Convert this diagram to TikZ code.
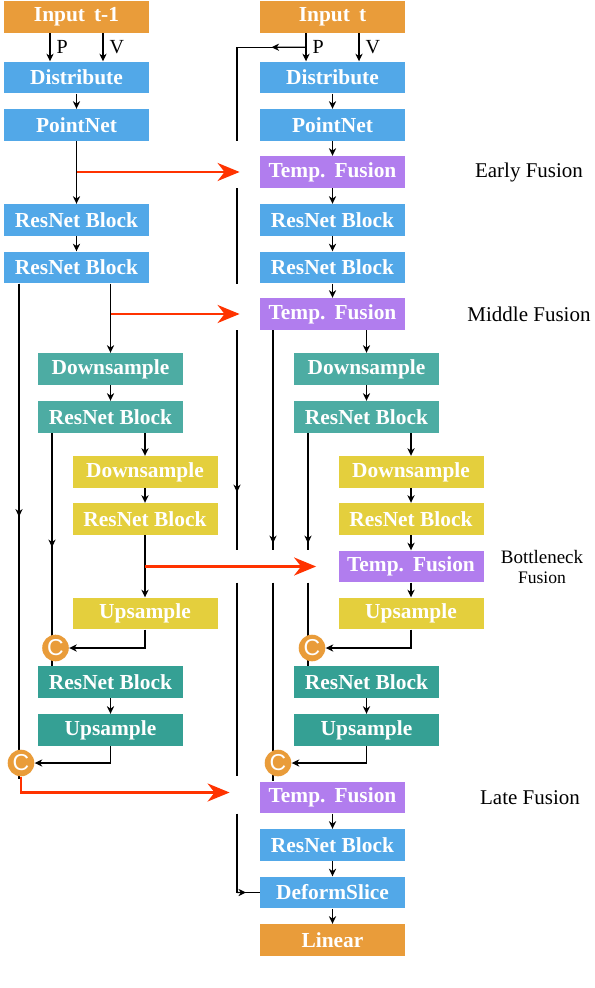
\documentclass[tikz,border=0pt]{standalone}
\usepackage{fontspec}
\setmainfont{Liberation Serif}
\setsansfont{Liberation Sans}
\usepackage{tikz}
\usetikzlibrary{calc,arrows.meta,backgrounds}
\definecolor{inorange}{RGB}{233,156,58}
\definecolor{netblue}{RGB}{82,168,232}
\definecolor{fusepurple}{RGB}{177,125,238}
\definecolor{downteal}{RGB}{77,172,163}
\definecolor{upteal}{RGB}{53,160,148}
\definecolor{botyellow}{RGB}{228,207,61}
\definecolor{fusered}{RGB}{255,51,0}
\newcommand{\bw}{72.5pt}
\newcommand{\bh}{15.8pt}
\newcommand{\pv}{13.25pt}
\newcommand{\gap}{\hspace{0.42em}}
\tikzset{
  block/.style    = {rectangle, minimum width=\bw, minimum height=\bh, inner sep=0pt,
                     text=white, font=\fontsize{10.7}{12}\selectfont\bfseries},
  inbox/.style    = {block, fill=inorange},
  netbox/.style   = {block, fill=netblue},
  fusebox/.style  = {block, fill=fusepurple},
  downbox/.style  = {block, fill=downteal},
  upbox/.style    = {block, fill=upteal},
  ybox/.style     = {block, fill=botyellow},
  catnode/.style  = {circle, fill=inorange, minimum size=13.3pt, inner sep=0pt,
                     text=white, font=\sffamily\fontsize{11.5}{11}\selectfont},
  tip/.style      = {-{Stealth[length=3.8pt,width=3.6pt,inset=1.2pt]}, line width=0.6pt},
  wire/.style     = {line width=0.6pt},
  hot/.style      = {-{Stealth[length=11pt,width=9pt,inset=3.5pt]}, line width=1.35pt, draw=fusered},
  pvlabel/.style  = {font=\fontsize{10}{12}\selectfont, inner sep=3pt},
  stage/.style    = {font=\fontsize{10.5}{12}\selectfont, inner sep=0pt}
}

\begin{document}
\begin{tikzpicture}[x=0.5pt,y=-0.5pt]
  \useasboundingbox (0,0) rectangle (594,988);
  % frame t-1 (left column)
  \node[inbox]   (inA)    at (76.5,17)    {Input\gap t-1};
  \node[netbox]  (distA)  at (76.5,77.5)  {Distribute};
  \node[netbox]  (pnA)    at (76.5,125)   {PointNet};
  \node[netbox]  (resA1)  at (76.5,220)   {ResNet Block};
  \node[netbox]  (resA2)  at (76.5,267.5) {ResNet Block};
  \node[downbox] (downA1) at (110.5,369)  {Downsample};
  \node[downbox] (resA3)  at (110.5,417)  {ResNet Block};
  \node[ybox]    (downA2) at (145,472)    {Downsample};
  \node[ybox]    (resA4)  at (145,519)    {ResNet Block};
  \node[ybox]    (upA1)   at (145,613.5)  {Upsample};
  \node[upbox]   (resA5)  at (110.5,682)  {ResNet Block};
  \node[upbox]   (upA2)   at (110.5,730)  {Upsample};
  \node[catnode] (catA1)  at (55.5,648)   {C};
  \node[catnode] (catA2)  at (21,763)     {C};
  % frame t (right column)
  \node[inbox]   (inB)    at (332.5,17)    {Input\gap t};
  \node[netbox]  (distB)  at (332.5,77.5)  {Distribute};
  \node[netbox]  (pnB)    at (332.5,125)   {PointNet};
  \node[fusebox] (fuseB1) at (332.5,172)   {Temp.\gap Fusion};
  \node[netbox]  (resB1)  at (332.5,220)   {ResNet Block};
  \node[netbox]  (resB2)  at (332.5,267.5) {ResNet Block};
  \node[fusebox] (fuseB2) at (332.5,314)   {Temp.\gap Fusion};
  \node[downbox] (downB1) at (366.5,369)   {Downsample};
  \node[downbox] (resB3)  at (366.5,417)   {ResNet Block};
  \node[ybox]    (downB2) at (411,472)     {Downsample};
  \node[ybox]    (resB4)  at (411,519)     {ResNet Block};
  \node[fusebox] (fuseB3) at (411,566.5)   {Temp.\gap Fusion};
  \node[ybox]    (upB1)   at (411,613.5)   {Upsample};
  \node[upbox]   (resB5)  at (366.5,682)   {ResNet Block};
  \node[upbox]   (upB2)   at (366.5,730)   {Upsample};
  \node[catnode] (catB1)  at (312,648)     {C};
  \node[catnode] (catB2)  at (278,763)     {C};
  \node[fusebox] (fuseB4) at (332.5,797.5) {Temp.\gap Fusion};
  \node[netbox]  (resB6)  at (332.5,845)   {ResNet Block};
  \node[netbox]  (slice)  at (332.5,892.5) {DeformSlice};
  \node[inbox]   (lin)    at (332.5,940)   {Linear};
  % stage names
  \node[stage] (earlyLbl)  at (529,172) {Early Fusion};
  \node[stage] (middleLbl) at (529,314) {Middle Fusion};
  \node[stage, font=\fontsize{9.5}{11}\selectfont] (bottleLbl)  at (542,557) {Bottleneck};
  \node[stage, font=\fontsize{8.8}{10}\selectfont] (bottleLbl2) at (542,578) {Fusion};
  \node[stage] (lateLbl)   at (530,798) {Late Fusion};

  \begin{scope}[on background layer]
    % P and V inputs
    \draw[tip] ([xshift=-\pv]inA.south) -- node[pvlabel,right] (pA) {P} ([xshift=-\pv]distA.north);
    \draw[tip] ([xshift=\pv]inA.south)  -- node[pvlabel,right] (vA) {V} ([xshift=\pv]distA.north);
    \draw[tip] ([xshift=-\pv]inB.south) -- node[pvlabel,right] (pB) {P} ([xshift=-\pv]distB.north);
    \draw[tip] ([xshift=\pv]inB.south)  -- node[pvlabel,right] (vB) {V} ([xshift=\pv]distB.north);
    % straight links inside a column
    \foreach \a/\b in {distA/pnA, pnA/resA1, resA1/resA2, downA1/resA3, downA2/resA4,
                       resA4/upA1, resA5/upA2, distB/pnB, pnB/fuseB1, fuseB1/resB1,
                       resB1/resB2, resB2/fuseB2, downB1/resB3, downB2/resB4,
                       resB4/fuseB3, fuseB3/upB1, resB5/upB2, fuseB4/resB6,
                       resB6/slice, slice/lin}
      \draw[tip] (\a.south) -- (\b.north);
    \draw[tip] (resA2.south -| downA1.north) -- (downA1.north);
    \draw[tip] (resA3.south -| downA2.north) -- (downA2.north);
    \draw[tip] (fuseB2.south -| downB1.north) -- (downB1.north);
    \draw[tip] (resB3.south -| downB2.north) -- (downB2.north);
    % concatenations
    \draw[tip] (upA1.south) |- (catA1.east);
    \draw[tip] (upA2.south) |- (catA2.east);
    \draw[tip] (upB1.south) |- (catB1.east);
    \draw[tip] (upB2.south) |- (catB2.east);
    % skip connections, left
    \coordinate (skipA)  at ($(resA2.south)+(-57.5,0)$);
    \coordinate (skipA2) at ($(resA3.south)+(-58.5,0)$);
    \draw[tip]  (skipA) -- ++(0,233);
    \draw[wire] (skipA) -- ($(skipA |- catA2)+(0,16)$);
    \draw[tip]  (skipA2) -- ++(0,114);
    \draw[wire] (skipA2) -- (skipA2 |- resA5.north);
    % skip connections, right
    \coordinate (skipB2) at ($(fuseB2.south)+(-59.5,0)$);
    \coordinate (skipB3) at ($(resB3.south)+(-58.5,0)$);
    \draw[tip]  (skipB2) -- ++(0,213);
    \draw[wire] (skipB2) -- (skipB2 |- fuseB3.north);
    \draw[wire] (skipB2 |- fuseB3.south) -- (skipB2 |- fuseB4.north);
    \draw[tip]  (skipB3) -- ++(0,110);
    \draw[wire] (skipB3) -- (skipB3 |- fuseB3.north);
    \draw[wire] (skipB3 |- fuseB3.south) -- (skipB3 |- resB5.north);
    % points of frame t to the slicer
    \coordinate (tapB)  at ($([xshift=-\pv]inB.south)!0.5!([xshift=-\pv]distB.north)$);
    \coordinate (skipB) at ($(tapB)+(-69,0)$);
    \draw[tip]  (tapB) -- ($(tapB)!0.5!(skipB)$);
    \draw[wire] (tapB) -- (skipB) -- (skipB |- pnB.south);
    \draw[wire] (skipB |- fuseB1.south) -- (skipB |- resB2.south);
    \draw[tip]  (skipB |- fuseB2.south) -- ([yshift=-2pt]skipB |- downB2.south);
    \draw[wire] (skipB |- downB2.south) -- (skipB |- fuseB3.north);
    \draw[wire] (skipB |- fuseB3.south) -- ([yshift=2.5pt]skipB |- fuseB4.north);
    \draw[wire] (skipB |- fuseB4.south) -- (skipB |- slice.west) -- (slice.west);
    \draw[tip]  (skipB |- slice.west) -- ($(skipB |- slice.west)!0.4!(slice.west)$);
    % temporal fusion paths
    \draw[hot] (pnA.south |- fuseB1.west)   -- ([xshift=-10pt]fuseB1.west);
    \draw[hot] (downA1.north |- fuseB2.west) -- ([xshift=-10pt]fuseB2.west);
    \draw[hot] (resA4.south |- fuseB3.west)  -- ([xshift=-11pt]fuseB3.west);
    \draw[hot] (catA2.south) |- ([xshift=-15pt,yshift=2.5pt]fuseB4.west);
  \end{scope}
\end{tikzpicture}
\end{document}
